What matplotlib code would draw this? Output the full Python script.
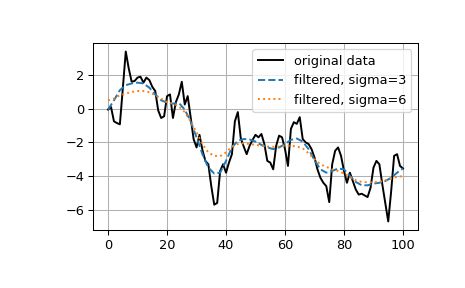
"""
Gaussian-filtered random walk, redrawn from the reference picture.
"""

import matplotlib
matplotlib.use("Agg")
import matplotlib.pyplot as plt

# original data, one value per sample index 0..100
original = [
    -0.05, 0.1, -0.75, -0.85, -0.93, 1.2, 3.4, 2.4, 1.6, 1.65,
    1.85, 1.9, 1.55, 1.85, 1.7, 1.3, 1.05, -0.1, -0.55, -0.45,
    0.75, 0.85, -0.55, 0.4, 0.85, 1.6, 0.25, 0.75, -0.5, -1.8,
    -2.3, -1.55, -2.45, -3.1, -3.3, -4.6, -5.7, -5.6, -3.7, -3.3,
    -3.8, -3.2, -2.7, -0.75, -0.2, -1.75, -2.25, -2.7, -2.2, -1.85,
    -1.55, -1.7, -1.5, -2.1, -3.1, -3.2, -3.6, -2.2, -1.6, -1.7,
    -2.4, -3.4, -1.2, -0.8, -0.9, -0.5, -1.8, -2.0, -2.1, -2.4,
    -2.9, -3.6, -4.1, -4.4, -4.6, -5.55, -3.3, -2.5, -2.3, -2.8,
    -3.7, -4.4, -3.8, -4.3, -4.8, -5.1, -5.05, -5.15, -5.25, -4.7,
    -3.5, -3.1, -3.3, -4.5, -5.6, -6.7, -4.9, -2.8, -2.7, -3.4,
    -3.55,
]
sample_idx = list(range(len(original)))

# smoothed curves, read every second sample
smooth_idx = list(range(0, 101, 2))
sigma3 = [
    -0.05, 0.5, 1.1, 1.4, 1.5, 1.55, 1.5, 1.25, 0.85, 0.5,
    0.36, 0.3, 0.35, -0.05, -0.75, -1.7, -2.7, -3.5, -3.85, -3.8,
    -3.1, -2.3, -1.9, -1.8, -1.83, -1.95, -2.15, -2.3, -2.4, -2.3,
    -2.1, -1.85, -1.77, -1.95, -2.4, -3.05, -3.6, -3.8, -3.7, -3.55,
    -3.6, -4.0, -4.35, -4.55, -4.55, -4.45, -4.4, -4.3, -4.1, -3.8,
    -3.55,
]
sigma6 = [
    0.5, 0.6, 0.8, 0.9, 1.0, 1.05, 1.05, 0.98, 0.8, 0.6,
    0.4, 0.3, 0.15, -0.2, -0.75, -1.4, -2.1, -2.6, -2.8, -2.82,
    -2.6, -2.25, -2.1, -2.05, -2.1, -2.15, -2.2, -2.25, -2.26, -2.25,
    -2.2, -2.2, -2.25, -2.35, -2.65, -3.0, -3.3, -3.45, -3.6, -3.7,
    -3.85, -4.05, -4.25, -4.35, -4.37, -4.37, -4.35, -4.25, -4.15, -4.05,
    -4.0,
]

DPI = 93
fig = plt.figure(figsize=(465 / DPI, 288 / DPI), dpi=DPI)
ax = fig.add_axes([0.2007, 0.2014, 0.6976, 0.6493])

ax.plot(sample_idx, original, "k", label="original data")
ax.plot(smooth_idx, sigma3, "--", label="filtered, sigma=3")
ax.plot(smooth_idx, sigma6, ":", label="filtered, sigma=6")
ax.legend()
ax.grid()

fig.savefig("out.png", dpi=DPI)
